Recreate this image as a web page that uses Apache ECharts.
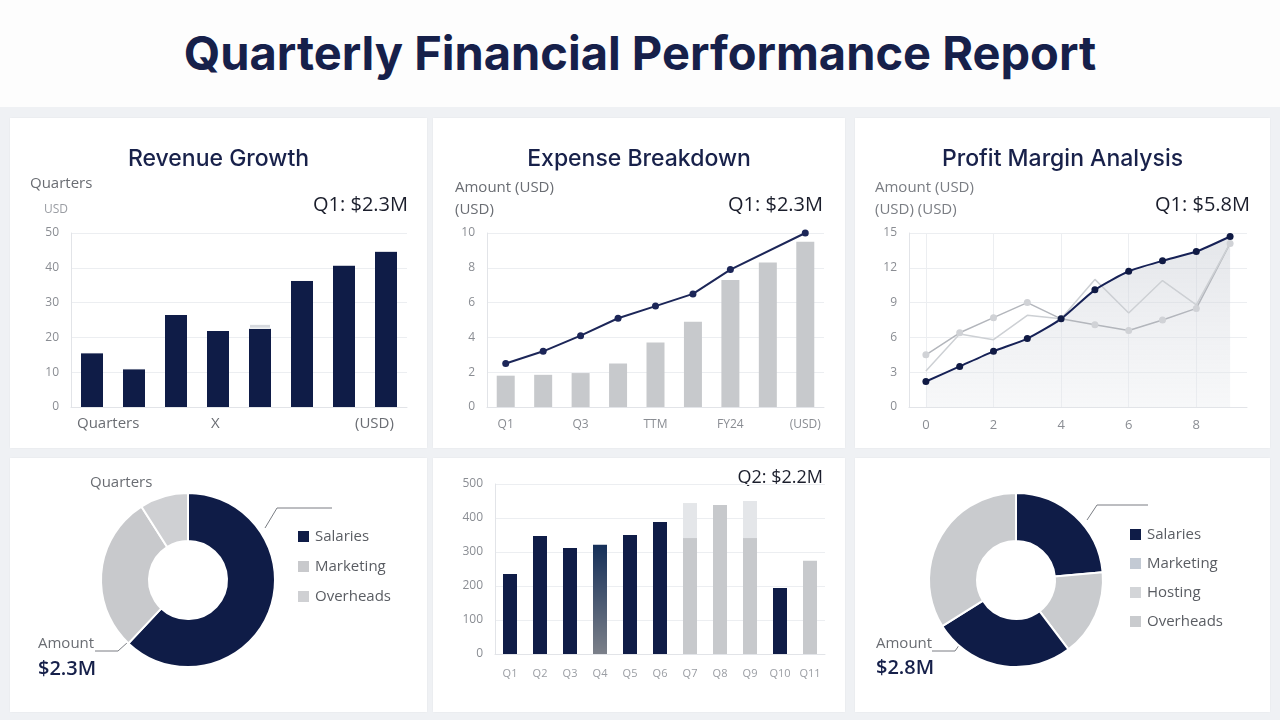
<!DOCTYPE html>
<html>
<head>
<meta charset="utf-8">
<title>Quarterly Financial Performance Report</title>
<script src="https://cdn.jsdelivr.net/npm/echarts@6/dist/echarts.min.js"></script>
<style>
  html, body { margin: 0; padding: 0; }
  body {
    width: 1280px; height: 720px; overflow: hidden; position: relative;
    background: #eff1f4;
    font-family: 'Open Sans', sans-serif;
  }
  .header {
    position: absolute; left: 0; top: 0; width: 1280px; height: 107px;
    background: #fdfdfd;
  }
  .header h1 {
    margin: 0; position: absolute; left: 0; right: 0; top: 24px;
    text-align: center; font-family: 'Inter', sans-serif;
    font-size: 47px; font-weight: 700; color: #16204a; letter-spacing: 0;
  }
  .card {
    position: absolute; background: #fff;
    box-shadow: 0 0 2px rgba(0, 0, 0, 0.05);
  }
</style>
</head>
<body>
<div class="header"><h1>Quarterly Financial Performance Report</h1></div>

<div class="card" id="revenue" style="left:10px;top:118px;width:417px;height:330px"></div>
<div class="card" id="expense" style="left:433px;top:118px;width:412px;height:330px"></div>
<div class="card" id="profit" style="left:855px;top:118px;width:415px;height:330px"></div>
<div class="card" id="split1" style="left:10px;top:458px;width:417px;height:254px"></div>
<div class="card" id="quarterly" style="left:433px;top:458px;width:412px;height:254px"></div>
<div class="card" id="split2" style="left:855px;top:458px;width:415px;height:254px"></div>

<script>
// --- data ---
const revenueQuarters = ['Q1', 'Q2', 'Q3', 'Q4', 'Q5', 'Q6', 'Q7', 'Q8']
const revenueValues = [15.6, 11.0, 26.6, 22.0, 22.5, 36.4, 40.8, 44.8]
const revenueCaps = [0, 0, 0, 0, 1.4, 0, 0, 0]

const expenseLabels = ['Q1', 'Q2', 'Q3', 'Q4', 'TTM', 'H1', 'FY24', 'H2', '(USD)']
const expenseBars = [1.8, 1.85, 1.95, 2.5, 3.7, 4.9, 7.3, 8.3, 9.5]
const expenseTrend = [2.5, 3.2, 4.1, 5.1, 5.8, 6.5, 7.9, null, 10.0]

const profitSteps = ['0', '1', '2', '3', '4', '5', '6', '7', '8', '9']
const profitMain = [2.2, 3.5, 4.8, 5.9, 7.6, 10.1, 11.7, 12.6, 13.4, 14.7]
const profitGrayA = [4.5, 6.4, 7.7, 9.0, 7.6, 7.1, 6.6, 7.5, 8.5, 14.1]
const profitGrayB = [3.1, 6.3, 5.8, 7.9, 7.6, 11.0, 8.1, 10.9, 8.8, 14.1]

const split1Names = ['Salaries', 'Marketing', 'Overheads']
const split1Values = [62, 29, 9]

const quarterLabels = ['Q1', 'Q2', 'Q3', 'Q4', 'Q5', 'Q6', 'Q7', 'Q8', 'Q9', 'Q10', 'Q11']
const quarterValues = [235, 347, 312, 321, 350, 388, 341, 438, 341, 194, 274]
const quarterCaps = [0, 0, 0, 0, 0, 0, 103, 0, 109, 0, 0]

const split2Names = ['Salaries', 'Marketing', 'Hosting', 'Overheads']
const split2Values = [23.6, 16.1, 26.4, 33.9]

// --- styles ---
const NAVY = '#0f1c47'
const GRAY = '#c7c9cc'
const LIGHT = '#e4e6e9'
const GRIDLINE = '#eceef1'
const FONT = "'Open Sans', sans-serif"

const panelTitle = (text) => ({
  text: text,
  left: 'center',
  top: 25,
  textStyle: { fontFamily: 'Inter', fontSize: 23, fontWeight: 500, color: '#18214a' }
})

const txt = (text, pos, size, color, weight) => ({
  type: 'text',
  ...pos,
  style: {
    text: text,
    font: `${weight || 400} ${size}px ${FONT}`,
    fill: color
  }
})

const leader = (points) => ({
  type: 'polyline',
  shape: { points: points },
  style: { stroke: '#7a7d83', lineWidth: 1, fill: null }
})

const valueAxis = (max, interval) => ({
  type: 'value',
  min: 0,
  max: max,
  interval: interval,
  axisLabel: { color: '#8a8d93', fontSize: 12, fontFamily: FONT, margin: 12 },
  axisLine: { show: true, lineStyle: { color: '#e2e4e8' } },
  splitLine: { lineStyle: { color: GRIDLINE } }
})

// --- Revenue Growth ---
const revenueChart = echarts.init(document.getElementById('revenue'))
revenueChart.setOption({
  animation: false,
  title: panelTitle('Revenue Growth'),
  grid: { left: 61, right: 20, top: 115, bottom: 41 },
  xAxis: {
    type: 'category',
    data: revenueQuarters,
    axisLabel: { show: false },
    axisTick: { show: false },
    axisLine: { lineStyle: { color: '#e2e4e8' } }
  },
  yAxis: valueAxis(50, 10),
  series: [
    {
      type: 'bar',
      stack: 'rev',
      data: revenueValues,
      barWidth: 22,
      itemStyle: { color: NAVY }
    },
    {
      type: 'bar',
      stack: 'rev',
      data: revenueCaps,
      barWidth: 22,
      itemStyle: { color: '#d6d9de', borderColor: '#fff', borderWidth: 1 }
    }
  ],
  graphic: [
    txt('Quarters', { left: 20, top: 58 }, 15, '#6a6d73'),
    txt('USD', { left: 34, top: 86 }, 12, '#9a9da3'),
    txt('Q1: $2.3M', { right: 19, top: 77 }, 20, '#1b1e2c'),
    txt('Quarters', { left: 67, top: 298 }, 15, '#6a6d73'),
    txt('X', { left: 201, top: 298 }, 15, '#6a6d73'),
    txt('(USD)', { left: 345, top: 298 }, 15, '#6a6d73')
  ]
})

// --- Expense Breakdown ---
const expenseChart = echarts.init(document.getElementById('expense'))
expenseChart.setOption({
  animation: false,
  title: panelTitle('Expense Breakdown'),
  grid: { left: 54, right: 21, top: 115, bottom: 41 },
  xAxis: {
    type: 'category',
    data: expenseLabels,
    axisLabel: { interval: 1, color: '#8a8d93', fontSize: 12, fontFamily: FONT, margin: 12 },
    axisTick: { show: false },
    axisLine: { lineStyle: { color: '#e2e4e8' } }
  },
  yAxis: valueAxis(10, 2),
  series: [
    {
      type: 'bar',
      data: expenseBars,
      barWidth: 18,
      itemStyle: { color: GRAY }
    },
    {
      type: 'line',
      data: expenseTrend,
      connectNulls: true,
      symbol: 'circle',
      symbolSize: 7,
      lineStyle: { color: '#1c2658', width: 2 },
      itemStyle: { color: '#1c2658' }
    }
  ],
  graphic: [
    txt('Amount (USD)', { left: 22, top: 62 }, 15, '#6a6d73'),
    txt('(USD)', { left: 22, top: 84 }, 15, '#6a6d73'),
    txt('Q1: $2.3M', { right: 22, top: 77 }, 20, '#1b1e2c')
  ]
})

// --- Profit Margin Analysis ---
const profitChart = echarts.init(document.getElementById('profit'))
profitChart.setOption({
  animation: false,
  title: panelTitle('Profit Margin Analysis'),
  grid: { left: 54, right: 23, top: 115, bottom: 41 },
  xAxis: {
    type: 'category',
    data: profitSteps,
    axisLabel: { interval: 1, color: '#8a8d93', fontSize: 13, fontFamily: FONT, margin: 12 },
    axisTick: { show: false },
    axisLine: { lineStyle: { color: '#e2e4e8' } },
    splitLine: { show: true, interval: 1, alignWithLabel: true, lineStyle: { color: GRIDLINE } }
  },
  yAxis: valueAxis(15, 3),
  series: [
    {
      type: 'line',
      data: profitGrayA,
      symbol: 'circle',
      symbolSize: 7,
      lineStyle: { color: '#b3b6bc', width: 1.5 },
      itemStyle: { color: '#d0d2d6' }
    },
    {
      type: 'line',
      data: profitGrayB,
      symbol: 'none',
      lineStyle: { color: '#cdd0d4', width: 1.5 }
    },
    {
      type: 'line',
      data: profitMain,
      smooth: 0.2,
      symbol: 'circle',
      symbolSize: 7,
      lineStyle: { color: '#162156', width: 2 },
      itemStyle: { color: '#101a44' },
      areaStyle: {
        color: new echarts.graphic.LinearGradient(0, 0, 0, 1, [
          { offset: 0, color: 'rgba(200,204,212,0.7)' },
          { offset: 1, color: 'rgba(232,234,238,0.5)' }
        ])
      }
    }
  ],
  graphic: [
    txt('Amount (USD)', { left: 20, top: 62 }, 15, '#7a7d83'),
    txt('(USD) (USD)', { left: 20, top: 84 }, 15, '#7a7d83'),
    txt('Q1: $5.8M', { right: 20, top: 77 }, 20, '#1b1e2c')
  ]
})

// --- bottom left donut ---
const split1Colors = [NAVY, '#c8c9cc', '#cfd0d3']
const split1Chart = echarts.init(document.getElementById('split1'))
split1Chart.setOption({
  animation: false,
  legend: {
    orient: 'vertical',
    left: 281,
    top: 66,
    icon: 'rect',
    itemWidth: 13,
    itemHeight: 13,
    itemGap: 15,
    textStyle: { color: '#5a5d63', fontSize: 15, fontFamily: FONT }
  },
  series: [
    {
      type: 'pie',
      center: [178, 122],
      radius: [39, 87],
      startAngle: 90,
      label: { show: false },
      labelLine: { show: false },
      itemStyle: { borderColor: '#fff', borderWidth: 2 },
      data: split1Names.map((name, i) => ({
        name: name,
        value: split1Values[i],
        itemStyle: { color: split1Colors[i] }
      }))
    }
  ],
  graphic: [
    txt('Quarters', { left: 80, top: 17 }, 15, '#6a6d73'),
    leader([[255, 70], [267, 50], [322, 50]]),
    txt('Amount', { left: 28, top: 178 }, 15, '#6a6d73'),
    leader([[85, 193], [108, 193], [118, 184]]),
    txt('$2.3M', { left: 28, top: 201 }, 20, '#16204a', 600)
  ]
})

// --- bottom middle bars ---
const quarterColors = quarterValues.map((v, i) => {
  if (i === 3) {
    return new echarts.graphic.LinearGradient(0, 0, 0, 1, [
      { offset: 0, color: '#163059' },
      { offset: 1, color: '#7b8089' }
    ])
  }
  return (i >= 6 && i <= 8) || i === 10 ? GRAY : NAVY
})
const quarterChart = echarts.init(document.getElementById('quarterly'))
quarterChart.setOption({
  animation: false,
  grid: { left: 62, right: 20, top: 26, bottom: 58 },
  xAxis: {
    type: 'category',
    data: quarterLabels,
    axisLabel: { color: '#9a9da3', fontSize: 11, fontFamily: FONT, margin: 14 },
    axisTick: { show: false },
    axisLine: { lineStyle: { color: '#e2e4e8' } }
  },
  yAxis: valueAxis(500, 100),
  series: [
    {
      type: 'bar',
      stack: 'q',
      data: quarterValues.map((v, i) => ({ value: v, itemStyle: { color: quarterColors[i] } })),
      barWidth: 14
    },
    {
      type: 'bar',
      stack: 'q',
      data: quarterCaps,
      barWidth: 14,
      itemStyle: { color: LIGHT }
    }
  ],
  graphic: [
    txt('Q2: $2.2M', { right: 22, top: 11 }, 18, '#1b1e2c')
  ]
})

// --- bottom right donut ---
const split2Colors = [NAVY, '#c9cbce', NAVY, '#c9cbce']
const split2LegendColors = [NAVY, '#c3cad4', '#d3d5d8', '#c9cbce']
const split2Chart = echarts.init(document.getElementById('split2'))
split2Chart.setOption({
  animation: false,
  legend: {
    orient: 'vertical',
    left: 268,
    top: 64,
    icon: 'rect',
    itemWidth: 13,
    itemHeight: 13,
    itemGap: 14,
    textStyle: { color: '#5a5d63', fontSize: 15, fontFamily: FONT },
    data: split2Names.map((name, i) => ({ name: name, itemStyle: { color: split2LegendColors[i] } }))
  },
  series: [
    {
      type: 'pie',
      center: [161, 122],
      radius: [39, 87],
      startAngle: 90,
      label: { show: false },
      labelLine: { show: false },
      itemStyle: { borderColor: '#fff', borderWidth: 2 },
      data: split2Names.map((name, i) => ({
        name: name,
        value: split2Values[i],
        itemStyle: { color: split2Colors[i] }
      }))
    }
  ],
  graphic: [
    leader([[232, 62], [242, 47], [293, 47]]),
    txt('Amount', { left: 21, top: 178 }, 15, '#6a6d73'),
    leader([[77, 193], [100, 193], [105, 186]]),
    txt('$2.8M', { left: 21, top: 200 }, 20, '#16204a', 600)
  ]
})
</script>
</body>
</html>
